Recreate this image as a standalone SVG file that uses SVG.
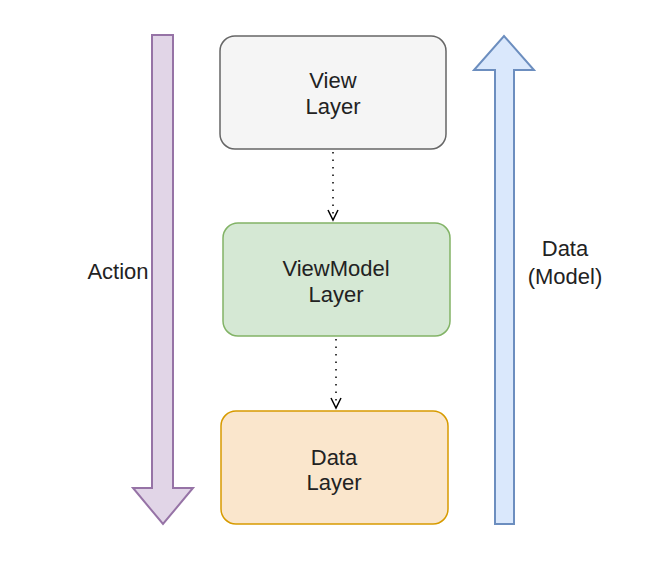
<svg xmlns="http://www.w3.org/2000/svg" width="669" height="584" viewBox="0 0 669 584">
<style>
text{font-family:"Helvetica","Liberation Sans",Arial,sans-serif;font-size:22px;fill:#222;text-anchor:middle}
.box{stroke-width:1.5}
.conn{stroke:#000;stroke-width:1.5;stroke-dasharray:1.5 6;fill:none}
.head{fill:none;stroke:#000;stroke-width:1.5}
</style>
<rect width="669" height="584" fill="#fff"/>
<g id="action-arrow">
<polygon points="152,35 173,35 173,488 193,488 163,524 133,488 152,488" fill="#e1d5e7" stroke="#9673a6" stroke-width="2"/>
<text x="118" y="279">Action</text>
</g>
<g id="data-arrow">
<polygon points="495,524 514,524 514,70 534,70 504,36 474,70 495,70" fill="#dae8fc" stroke="#6c8ebf" stroke-width="2"/>
<text x="565" y="256">Data</text>
<text x="565" y="284">(Model)</text>
</g>
<g id="view">
<rect class="box" x="220" y="36" width="226" height="113" rx="15" fill="#f5f5f5" stroke="#666"/>
<text x="333" y="88">View</text>
<text x="333" y="114">Layer</text>
</g>
<g id="viewmodel">
<rect class="box" x="223" y="223" width="227" height="113" rx="15" fill="#d5e8d4" stroke="#82b366"/>
<text x="336" y="276">ViewModel</text>
<text x="336" y="302">Layer</text>
</g>
<g id="data">
<rect class="box" x="221" y="411" width="227" height="113" rx="15" fill="#fae6cc" stroke="#d79b00"/>
<text x="334" y="465">Data</text>
<text x="334" y="490">Layer</text>
</g>
<g id="connectors">
<path class="conn" d="M333,152 L333,219"/>
<path class="head" d="M328,210 L333,220 L338,210"/>
<path class="conn" d="M336,339 L336,407"/>
<path class="head" d="M331,398 L336,408 L341,398"/>
</g>
</svg>
